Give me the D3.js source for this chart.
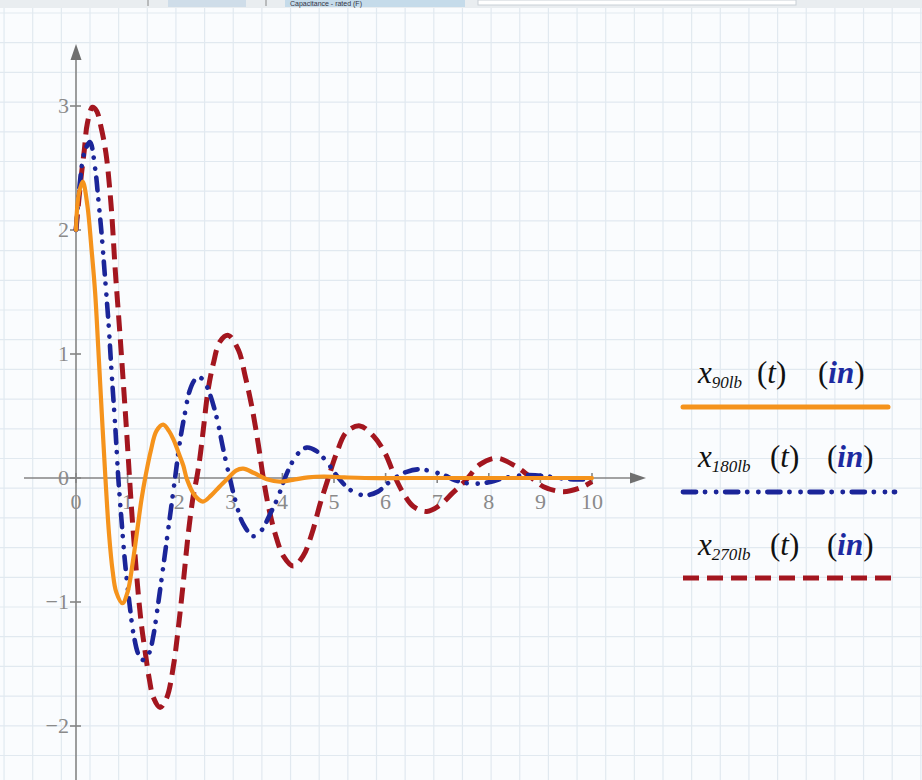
<!DOCTYPE html>
<html><head><meta charset="utf-8">
<script src="https://cdn.jsdelivr.net/npm/d3@7"></script>
<style>html,body{margin:0;padding:0;background:#f9fbfd;}svg{display:block;}</style>
</head><body>
<svg id="c" width="922" height="780"></svg>
<script>
// ---- data ----
const t90 = [0,0.05,0.13,0.22,0.3,0.37,0.43,0.5,0.57,0.64,0.71,0.78,0.9,1.0,1.1,1.2,1.27,1.35,1.45,1.56,1.69,1.8,1.89,2.0,2.08,2.15,2.3,2.46,2.62,2.78,2.95,3.1,3.24,3.45,3.7,3.95,4.2,4.5,4.8,5.2,5.6,6.5,7.5,8.5,10];
const x90 = [2.0,2.28,2.39,2.2,1.85,1.5,1.06,0.52,0.0,-0.45,-0.75,-0.92,-1.01,-0.92,-0.68,-0.38,-0.17,0.02,0.22,0.38,0.43,0.38,0.31,0.19,0.1,-0.01,-0.14,-0.19,-0.14,-0.07,0.0,0.06,0.075,0.04,-0.01,-0.03,-0.015,0.005,0.012,0.005,0,0,0,0,0];

const t180 = [0,0.08,0.16,0.27,0.37,0.43,0.5,0.56,0.63,0.69,0.76,0.82,0.88,0.95,1.05,1.12,1.22,1.32,1.42,1.5,1.58,1.66,1.76,1.84,1.92,2.02,2.11,2.2,2.3,2.39,2.47,2.6,2.73,2.85,2.98,3.1,3.24,3.44,3.6,3.75,3.9,4.05,4.18,4.31,4.47,4.65,4.86,5.05,5.24,5.41,5.62,5.85,6.05,6.18,6.41,6.65,6.93,7.15,7.3,7.55,7.8,8.05,8.3,8.6,8.9,9.2,9.45,9.7,10];
const x180 = [2.0,2.4,2.62,2.71,2.5,2.26,1.95,1.63,1.25,0.85,0.42,0.0,-0.33,-0.68,-1.06,-1.27,-1.43,-1.47,-1.41,-1.27,-1.05,-0.81,-0.5,-0.25,0.0,0.31,0.52,0.7,0.79,0.81,0.79,0.67,0.48,0.24,0.0,-0.2,-0.37,-0.47,-0.42,-0.3,-0.17,0.0,0.12,0.2,0.245,0.22,0.13,0.02,-0.07,-0.12,-0.14,-0.11,-0.04,0.0,0.05,0.07,0.05,0.02,-0.01,-0.04,-0.045,-0.03,0.0,0.02,0.022,0.01,-0.005,-0.012,-0.01];

const t270 = [0,0.1,0.16,0.22,0.32,0.4,0.48,0.58,0.68,0.76,0.85,0.92,0.98,1.03,1.08,1.14,1.21,1.27,1.34,1.42,1.5,1.63,1.76,1.89,1.98,2.08,2.17,2.27,2.34,2.4,2.47,2.56,2.66,2.79,2.95,3.15,3.28,3.41,3.53,3.63,3.73,3.86,4.02,4.21,4.4,4.57,4.73,4.89,5.05,5.24,5.5,5.76,5.99,6.18,6.34,6.54,6.8,7.05,7.3,7.55,7.83,8.15,8.5,8.8,9.06,9.44,9.77,10];
const x270 = [2.0,2.43,2.64,2.86,2.99,2.96,2.84,2.62,2.2,1.68,1.17,0.75,0.38,0.05,-0.27,-0.6,-0.95,-1.19,-1.4,-1.62,-1.77,-1.85,-1.77,-1.51,-1.22,-0.84,-0.47,-0.15,0.0,0.16,0.4,0.71,0.92,1.1,1.15,1.03,0.82,0.57,0.28,0.0,-0.23,-0.45,-0.63,-0.71,-0.63,-0.45,-0.21,0.0,0.2,0.37,0.42,0.34,0.2,0.01,-0.12,-0.23,-0.27,-0.22,-0.12,-0.02,0.11,0.16,0.1,0.01,-0.07,-0.11,-0.08,-0.03];

const xTicks = [0,1,2,3,4,5,6,7,8,9,10];
const yTicks = [-2,-1,0,1,2,3];
const seriesNames = ["90lb","180lb","270lb"];

// ---- drawing ----
const svg = d3.select("#c");
const W = 922, H = 780;
const x = d3.scaleLinear().domain([0,10]).range([76,592]);
const y = d3.scaleLinear().domain([0,3]).range([478,106]);

// background grid paper
svg.append("rect").attr("width",W).attr("height",H).attr("fill","#fafcfe");
const g = svg.append("g").attr("stroke","#e1e9f0").attr("stroke-width",1.2);
for (let gx = 663 - 28.65*23; gx < W; gx += 28.65) g.append("line").attr("x1",gx).attr("x2",gx).attr("y1",8).attr("y2",H);
for (let gy = 42.7 - 29.7; gy < H; gy += 29.7) g.append("line").attr("y1",gy).attr("y2",gy).attr("x1",0).attr("x2",W);

// toolbar remnant at top
const tb = svg.append("g");
tb.append("rect").attr("x",0).attr("y",0).attr("width",W).attr("height",8).attr("fill","#e9edf0");
tb.append("rect").attr("x",168).attr("y",0).attr("width",78).attr("height",7).attr("fill","#cfdde9");
tb.append("rect").attr("x",285).attr("y",0).attr("width",180).attr("height",7).attr("fill","#c5dbea");
tb.append("rect").attr("x",478).attr("y",0).attr("width",318).attr("height",5).attr("fill","#ffffff").attr("stroke","#c9d0d6");
tb.append("line").attr("x1",148).attr("x2",148).attr("y1",0).attr("y2",6).attr("stroke","#888");
tb.append("line").attr("x1",266).attr("x2",266).attr("y1",0).attr("y2",6).attr("stroke","#888");
tb.append("text").attr("x",290).attr("y",6).attr("font-family","Liberation Sans").attr("font-size",7).attr("fill","#334").text("Capacitance - rated (F)");

// axes
const axC = "#858585";
const ax = svg.append("g").attr("stroke",axC).attr("stroke-width",1.6).attr("fill","none");
ax.append("line").attr("x1",x(0)).attr("x2",x(0)).attr("y1",H).attr("y2",56);
ax.append("line").attr("x1",24).attr("x2",634).attr("y1",y(0)).attr("y2",y(0));
svg.append("path").attr("d",`M${x(0)},44 L${x(0)-5.5},60 L${x(0)+5.5},60 Z`).attr("fill","#707070");
svg.append("path").attr("d",`M646,${y(0)} L630,${y(0)-5.5} L630,${y(0)+5.5} Z`).attr("fill","#707070");
yTicks.forEach(v=>ax.append("line").attr("x1",x(0)-6).attr("x2",x(0)+5).attr("y1",y(v)).attr("y2",y(v)));
xTicks.forEach(v=>ax.append("line").attr("x1",x(v)).attr("x2",x(v)).attr("y1",y(0)-5).attr("y2",y(0)+5));

const lab = svg.append("g").attr("font-family","Liberation Serif, DejaVu Serif, serif").attr("font-size",22).attr("fill","#8a8a8a");
yTicks.forEach(v=>lab.append("text").attr("x",x(0)-7).attr("y",y(v)+7).attr("text-anchor","end").text(v<0?"\u2212"+Math.abs(v):String(v)));
xTicks.forEach(v=>lab.append("text").attr("x",x(v)).attr("y",y(0)+31).attr("text-anchor","middle").text(String(v)));

// curves
const line = d3.line().x(d=>x(d[0])).y(d=>y(d[1])).curve(d3.curveCatmullRom.alpha(0.5));
const styles = [
  {c:"#f5931c", w:4.2, dash:null, cap:"round"},
  {c:"#1b2599", w:4.6, dash:"13,9,0.1,11,0.1,9", cap:"round"},
  {c:"#a3161f", w:5, dash:"16,8", cap:"butt"}
];
const dataSets = [d3.zip(t90,x90), d3.zip(t180,x180), d3.zip(t270,x270)];
[2,1,0].forEach(i=>{
  const s = styles[i];
  const p = svg.append("path").datum(dataSets[i]).attr("d",line).attr("fill","none")
    .attr("stroke",s.c).attr("stroke-width",s.w).attr("stroke-linecap",s.cap).attr("stroke-linejoin","round");
  if (s.dash) p.attr("stroke-dasharray",s.dash);
});

// legend
const legY = [383,467,555];
const lineY = [407,492,578];
const lineX2 = [888,895,898];
const tX = [757,770,770];
const inX = [818,827,827];
const ff = "Liberation Serif, DejaVu Serif, serif";
seriesNames.forEach((nm,i)=>{
  const s = styles[i];
  const tx = svg.append("text").attr("font-family",ff).attr("fill","#111").attr("x",698).attr("y",legY[i]);
  tx.append("tspan").attr("font-style","italic").attr("font-size",31).text("x");
  tx.append("tspan").attr("font-style","italic").attr("font-size",17).attr("dy",5).text(nm);
  const t2 = svg.append("text").attr("font-family",ff).attr("fill","#111").attr("font-size",31).attr("x",tX[i]).attr("y",legY[i]);
  t2.append("tspan").text("(");
  t2.append("tspan").attr("font-style","italic").text("t");
  t2.append("tspan").text(")");
  const t3 = svg.append("text").attr("font-family",ff).attr("fill","#111").attr("font-size",31).attr("x",inX[i]).attr("y",legY[i]);
  t3.append("tspan").text("(");
  t3.append("tspan").attr("font-style","italic").attr("font-weight","bold").attr("fill","#1d2aa0").text("in");
  t3.append("tspan").text(")");
  const l = svg.append("line").attr("x1",683).attr("x2",lineX2[i]).attr("y1",lineY[i]).attr("y2",lineY[i])
    .attr("stroke",s.c).attr("stroke-width",i===0?5:4.8).attr("stroke-linecap",s.cap);
  if (s.dash) l.attr("stroke-dasharray",s.dash);
});
</script>
</body></html>
